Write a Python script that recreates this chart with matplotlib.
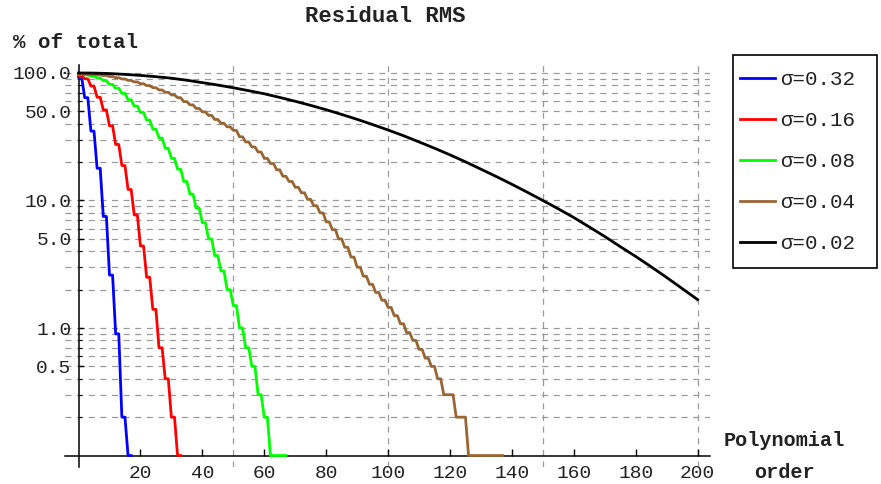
import numpy as np
import matplotlib.pyplot as plt
from matplotlib.patches import Rectangle

plt.rcParams['font.family'] = ['Liberation Mono', 'DejaVu Sans Mono']

# residual RMS (% of total), one value per even order n, held for n and n+1
blue_even = [93, 64, 35, 17.9, 7.5, 2.6, 0.9, 0.2, 0.1]
red_even = [95.5, 90, 79, 64.5, 51.3, 38.5, 27.5, 18.8, 12.2, 7.7, 4.4,
            2.5, 1.4, 0.7, 0.4, 0.2, 0.1]
green_even = [97.7, 96.6, 94.4, 91.2, 87.1, 81.3, 75.9, 69.2, 61.7, 55.0,
              49.0, 42.7, 36.3, 30.9, 25.7, 21.4, 17.6, 14.1, 11.2, 8.7,
              6.7, 5.0, 3.7, 2.8, 2.0, 1.5, 1.0, 0.7, 0.5, 0.3, 0.2,
              0.1, 0.1, 0.1]
brown_even = [97.7, 97.7, 97.2, 96.6, 95.5, 93.8, 91.8, 89.7, 87.5, 85.1,
              82.4, 79.6, 76.7, 73.6, 70.5, 67.3, 64.0, 59.6, 56.2, 52.7,
              49.5, 46.5, 43.2, 40.3, 37.8, 35.5, 31.6, 28.8, 26.3, 24.0,
              21.4, 19.5, 17.4, 15.5, 14.1, 12.7, 11.5, 10.2, 9.1, 8.0,
              6.8, 5.9, 5.0, 4.3, 3.6, 3.0, 2.55, 2.2, 1.9, 1.65,
              1.45, 1.25, 1.08, 0.92, 0.8, 0.68, 0.58, 0.5, 0.4, 0.3,
              0.3, 0.2, 0.2, 0.1, 0.1, 0.1, 0.1, 0.1, 0.1]
# sigma = 0.02 is smooth, read every 5 orders
black_orders = list(range(0, 201, 5))
black_values = [100, 99.8, 99.0, 97.5, 95.7, 93.5, 91.0, 87.7, 84.0, 80.4,
                76.6, 72.6, 68.7, 64.3, 60.0, 55.7, 51.5, 47.3, 43.3, 39.4,
                35.7, 32.2, 28.8, 25.7, 22.8, 20.1, 17.6, 15.4, 13.4, 11.6,
                10.0, 8.6, 7.35, 6.2, 5.22, 4.35, 3.64, 3.02, 2.49, 2.04, 1.67]

labels = ['σ=0.32', 'σ=0.16', 'σ=0.08', 'σ=0.04', 'σ=0.02']
colors = ['#0000ff', '#ff0000', '#00ff00', '#996633', '#000000']

ytick_vals = [0.5, 1, 5, 10, 50, 100]
ytick_labels = ['0.5', '1.0', '5.0', '10.0', '50.0', '100.0']
yminor_vals = [0.2, 0.3, 0.4, 0.6, 0.7, 0.8, 0.9, 2, 3, 4, 6, 7, 8, 9,
               20, 30, 40, 60, 70, 80, 90]
xgrid_vals = [50, 100, 150, 200]


def staircase(vals):
    v = np.repeat(vals, 2)
    return np.arange(len(v)), v


W, H = 881, 484
fig = plt.figure(figsize=(W / 100, H / 100), dpi=100)
ax = fig.add_axes([64.6 / W, 1 - 467 / H, (710 - 64.6) / W, (467 - 65) / H])
ax.set_yscale('log')
ax.set_xlim(-4.5, 204)
ax.set_ylim(0.0813, 115.5)

# dashed grid
gcol = '#9a9a9a'
for y in yminor_vals + ytick_vals:
    ax.axhline(y, color=gcol, lw=0.9, dashes=(4.8, 4.5), zorder=1)
for x in xgrid_vals:
    ax.axvline(x, color=gcol, lw=0.9, dashes=(4.8, 4.5), zorder=1)

handles = []
for vals, c in zip([blue_even, red_even, green_even, brown_even], colors[:4]):
    n, v = staircase(vals)
    h, = ax.plot(n, v, color=c, lw=2, zorder=3)
    handles.append(h)
h, = ax.plot(black_orders, black_values, color=colors[4], lw=2, zorder=3)
handles.append(h)

# Mathematica-like axes crossing inside the frame
for s in ['top', 'right']:
    ax.spines[s].set_visible(False)
ax.spines['left'].set_position(('data', 0))
ax.spines['bottom'].set_position(('data', 0.1))
for s in ['left', 'bottom']:
    ax.spines[s].set_linewidth(1.1)
    ax.spines[s].set_zorder(2.5)

ax.set_xticks(range(20, 201, 20))
ax.set_yticks(ytick_vals, labels=ytick_labels)
ax.set_yticks(yminor_vals, minor=True)
ax.yaxis.set_minor_formatter(plt.NullFormatter())
ax.tick_params(axis='x', direction='in', length=5, width=1, pad=7,
               labelsize=14, labelcolor='#222222')
ax.tick_params(axis='y', which='major', direction='in', length=3.5, width=1,
               pad=5, labelsize=14, labelcolor='#222222')
ax.tick_params(axis='y', which='minor', direction='in', length=2, width=0.8)

# legend box drawn separately so the padding can differ per side
fig.patches.append(Rectangle((733 / W, 1 - 268 / H), (877 - 733) / W,
                             (268 - 55) / H, transform=fig.transFigure,
                             fill=False, ec='black', lw=1.2))
leg = fig.legend(handles, labels, loc='upper left',
                 bbox_to_anchor=(740 / W, 1 - 70 / H), borderaxespad=0,
                 frameon=False, borderpad=0, labelspacing=1.06,
                 handlelength=1.68, handletextpad=0.25, prop={'size': 15})
for t in leg.get_texts():
    t.set_color('#222222')

fig.text(385.5 / W, 1 - 16 / H, 'Residual RMS', ha='center', va='center',
         fontsize=16, fontweight='bold', color='#222222')
fig.text(13 / W, 1 - 42 / H, '% of total', ha='left', va='center',
         fontsize=15, fontweight='bold', color='#222222')
fig.text(784 / W, 1 - 440 / H, 'Polynomial', ha='center', va='center',
         fontsize=14.5, fontweight='bold', color='#222222')
fig.text(784 / W, 1 - 472 / H, 'order', ha='center', va='center',
         fontsize=14.5, fontweight='bold', color='#222222')

fig.savefig('out.png', dpi=100)
